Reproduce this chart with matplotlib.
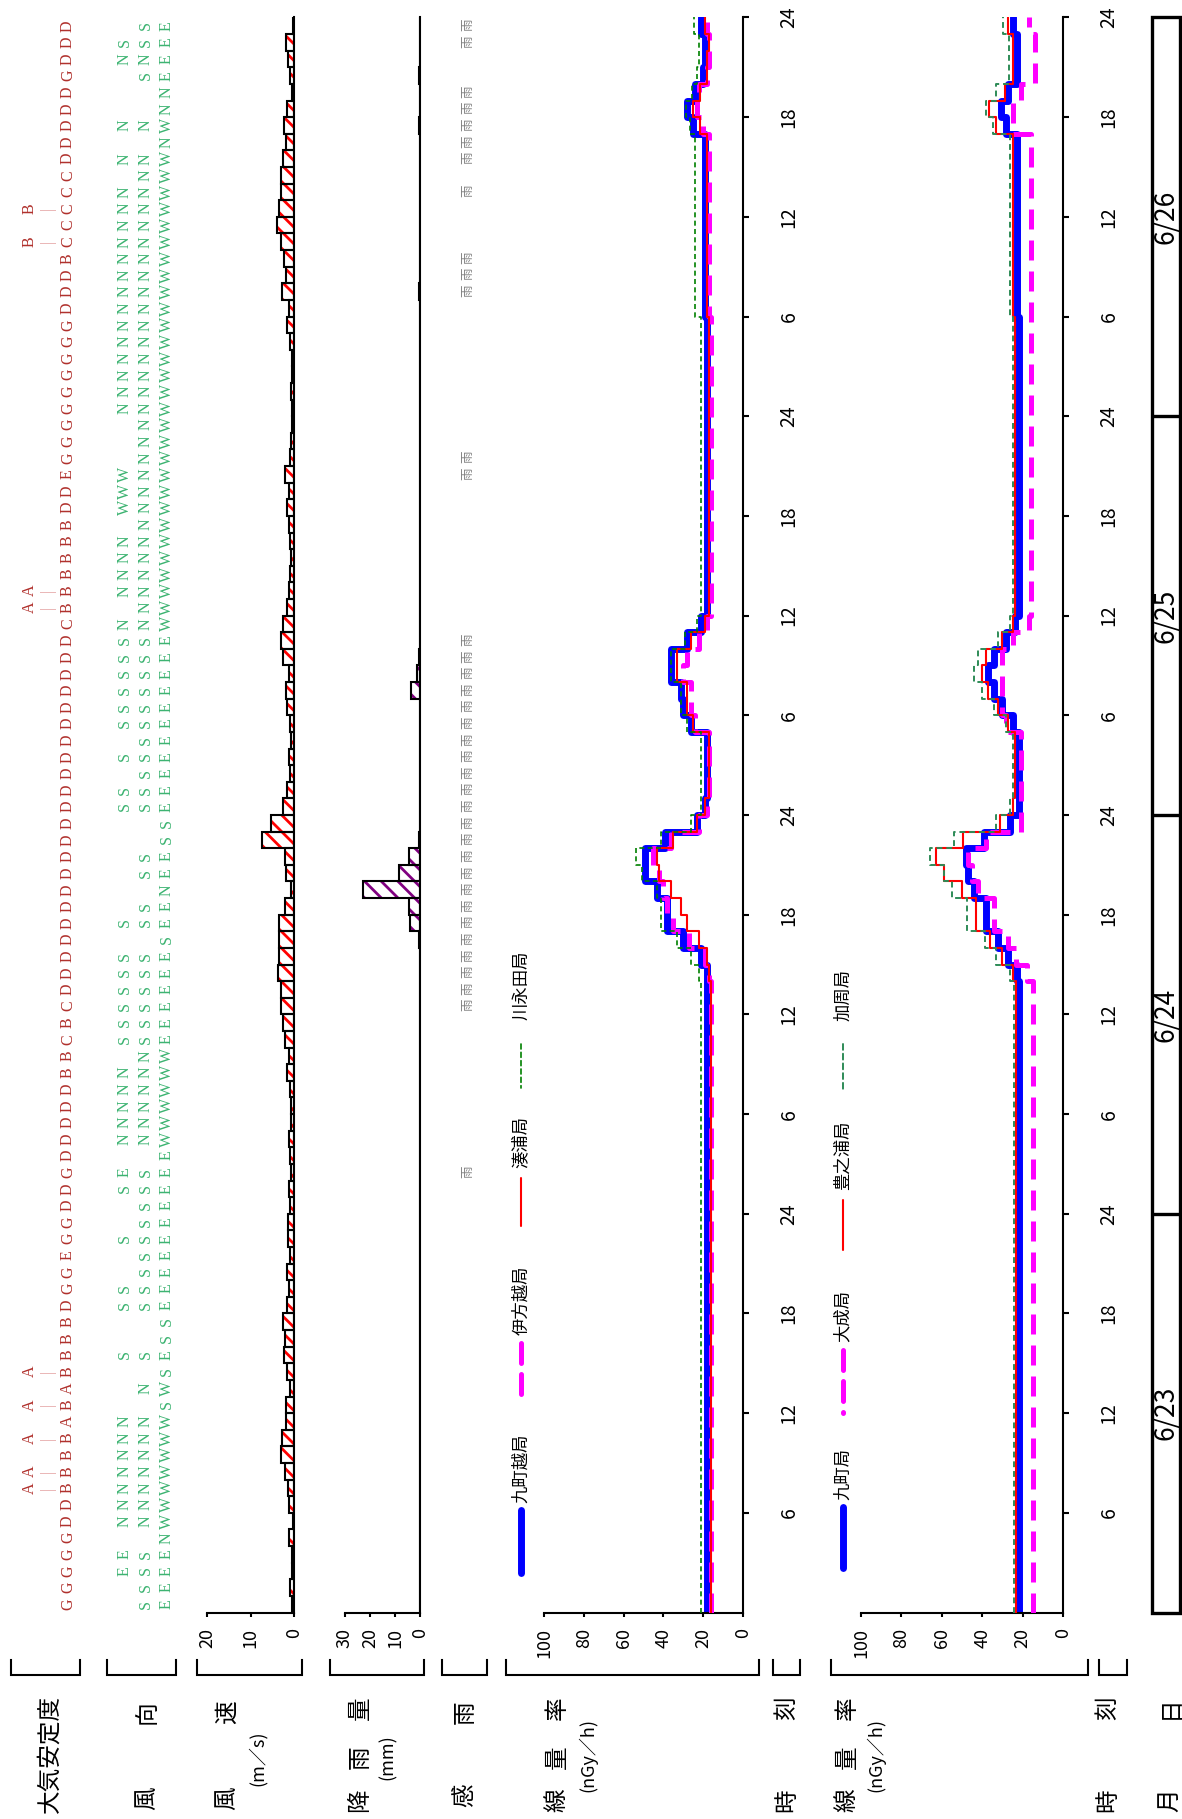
import numpy as np
import matplotlib
matplotlib.use("Agg")
import matplotlib.pyplot as plt
from matplotlib.patches import Rectangle

plt.rcParams["font.family"] = ["Noto Sans CJK JP", "DejaVu Sans"]
plt.rcParams["hatch.linewidth"] = 2.0

W, H = 1182, 1819
Y0, Y96 = 1612.5, 17.5          # pixel rows of hour 0 and hour 96

# ---- hourly data, 6/23 .. 6/26 (index k = hour k..k+1) ----
DATES = ["6/23", "6/24", "6/25", "6/26"]
TIME_LABELS = ["6", "12", "18", "24"] * 4

STABILITY = (
    ["G", "G", "G", "G", "G", "D", "D", "A-B", "A-B", "B", "A-B", "A",
     "A-B", "A", "A-B", "B", "B", "B", "D", "G", "G", "E", "G", "G"]
    + ["D", "D", "G", "D", "D", "D", "D", "D", "B", "B", "C", "B",
       "C", "D", "D", "D", "D", "D", "D", "D", "D", "D", "D", "D"]
    + ["D", "D", "D", "D", "D", "D", "D", "D", "D", "D", "D", "C",
       "A-B", "A-B", "B", "B", "B", "B", "D", "D", "E", "G", "G", "G"]
    + ["G", "G", "G", "G", "G", "G", "D", "D", "D", "B", "B-C", "C",
       "B-C", "C", "C", "D", "D", "D", "D", "D", "G", "D", "D", "D"]
)

WIND_DIR = (
    ["SE", "SE", "ESE", "ESE", "N", "NNW", "NNW", "NNW", "NNW", "NNW", "NNW", "NNW",
     "S", "NW", "S", "SSE", "S", "S", "SSE", "SSE", "SE", "SE", "SSE", "SE"]
    + ["SE", "SSE", "ESE", "E", "NNW", "NNW", "NNW", "NNW", "NNW", "NW", "SSE", "SSE",
       "SSE", "SSE", "SSE", "SSE", "S", "SSE", "SE", "N", "SE", "SE", "S", "S"]
    + ["SSE", "SSE", "SE", "SSE", "SE", "SSE", "SSE", "SSE", "SSE", "SSE", "SSE", "NNW",
       "NW", "NNW", "NNW", "NNW", "NNW", "NW", "WNW", "WNW", "WNW", "NW", "NW", "NW"]
    + ["NNW", "NNW", "NNW", "NNW", "NNW", "NNW", "NNW", "NNW", "NNW", "NNW", "NNW", "NNW",
       "NNW", "NNW", "NW", "NNW", "N", "NNW", "N", "N", "SE", "NNE", "SSE", "SE"]
)

WIND_SPEED = (
    [0.5, 0.9, 0.4, 0.4, 1.1, 0.3, 1.2, 1.3, 2.1, 2.9, 2.8, 1.8,
     1.8, 0.9, 1.5, 2.2, 2.1, 2.5, 1.5, 1.2, 1.5, 1.0, 1.3, 1.4]
    + [1.0, 1.2, 0.8, 1.0, 1.2, 0.6, 0.8, 1.0, 1.5, 1.2, 2.0, 2.5,
       3.0, 3.0, 3.7, 3.4, 3.4, 3.4, 2.1, 0.8, 1.9, 2.1, 7.3, 5.2]
    + [2.5, 1.5, 1.0, 1.2, 0.8, 1.0, 1.5, 1.8, 1.2, 2.5, 3.0, 2.5,
       1.5, 1.2, 1.0, 0.8, 1.0, 1.2, 1.5, 1.2, 2.0, 1.0, 0.8, 0.5]
    + [0.5, 0.8, 0.5, 0.5, 1.0, 1.5, 1.2, 2.7, 1.8, 2.2, 3.1, 3.8,
       3.5, 2.9, 3.1, 2.5, 1.8, 2.2, 1.5, 0.5, 0.9, 1.3, 1.8, 0.3]
)

RAIN = (
    [0.0] * 24
    + [0.0] * 16 + [0.5, 4.0, 4.5, 22.7, 8.5, 4.3, 0.5, 0.0]
    + [0.0] * 7 + [3.5, 1.0, 0.5] + [0.0] * 14
    + [0.0] * 7 + [0.5] + [0.0] * 9 + [0.5, 0.0, 0.0, 0.5] + [0.0] * 3
)

RAIN_SENSE_HOURS = [26] + list(range(36, 59)) + [68, 69, 79, 80, 81, 85, 87, 88,
                                                89, 90, 91, 94, 95]

# dose rate (nGy/h), upper panel
KUMACHIGOE = (
    [18] * 24
    + [18] * 14 + [18, 21, 30, 38, 38, 43, 49, 49, 39, 23]
    + [19, 18, 18, 18, 18, 26, 30, 31, 36, 36, 28, 21] + [18] * 12
    + [18] * 6 + [19] * 11 + [25, 28, 24, 20, 19, 19, 21]
)
IKATAGOE = (
    [16] * 24
    + [16] * 14 + [17, 19, 27, 35, 38, 40, 42, 45, 36, 22]
    + [18, 17, 17, 17, 17, 24, 26, 26, 30, 28, 22, 18] + [16] * 12
    + [16] * 6 + [17] * 11 + [20, 23, 22, 18, 17, 17, 18]
)
MINATOURA = (
    [16] * 24
    + [16] * 14 + [17, 18, 22, 28, 31, 36, 42, 43, 35, 23]
    + [19, 17, 17, 17, 17, 25, 28, 28, 33, 33, 26, 19] + [17] * 12
    + [17] * 6 + [18] * 11 + [21.6, 25, 21.6, 18, 18, 17, 19]
)
KAWANAGATA = (
    [21] * 24
    + [21] * 14 + [22, 26, 33, 41, 41, 43, 51, 54, 41, 26]
    + [21, 21, 21, 21, 21, 28, 31, 31, 36, 36, 29, 23] + [21] * 12
    + [21] * 6 + [24] * 11 + [26.6, 28.8, 25.8, 23, 22, 22, 24.6]
)

# dose rate (nGy/h), lower panel
KUMACHI = (
    [22] * 24
    + [22] * 14 + [23, 27, 32, 38, 38, 44, 47, 48, 39, 26]
    + [22, 22, 22, 22, 22, 25, 30, 34, 37, 34, 28, 24] + [22] * 12
    + [22] * 6 + [23] * 11 + [28, 30.5, 27, 23, 23, 23, 25]
)
OONARI = (
    [15] * 24
    + [15] * 14 + [18, 23.5, 27, 34, 34, 42, 45, 47, 38, 21]
    + [21, 21, 21, 21, 21, 28, 30, 30, 30, 30, 25, 17] + [16] * 12
    + [16] * 17 + [25, 25, 21, 14, 14, 14, 17]
)
TOYONOURA = (
    [23.5] * 24
    + [23.5] * 14 + [25, 30, 36, 43, 43, 50, 59, 63, 49.5, 31]
    + [24.6, 24, 24, 24, 24, 27, 32, 37, 40, 38, 30, 25] + [24] * 12
    + [24] * 6 + [24.6] * 11 + [33, 36.6, 28.5, 24.6, 24.6, 24.6, 27]
)
KASHU = (
    [24.5] * 24
    + [24.5] * 14 + [26, 33, 38.6, 47.7, 47.7, 55, 59, 66, 54, 33]
    + [26, 25, 25, 25, 25, 28, 34, 40, 44, 42, 32, 26] + [25] * 12
    + [25] * 6 + [26] * 11 + [34.6, 38, 33, 26.7, 26.7, 26.7, 29.7]
)

HOURS = np.arange(96)

fig = plt.figure(figsize=(W / 100, H / 100), dpi=100)
fig.patch.set_facecolor("white")


def time_axes(x0, x1):
    ax = fig.add_axes([x0 / W, 1 - Y0 / H, (x1 - x0) / W, (Y0 - Y96) / H])
    ax.set_ylim(0, 96)
    ax.patch.set_alpha(0)
    return ax


def value_axes(x0, x1, vmax, ticks):
    ax = time_axes(x0, x1)
    ax.set_xlim(vmax, 0)
    for s in ("top", "left"):
        ax.spines[s].set_visible(False)
    for s in ("right", "bottom"):
        ax.spines[s].set_linewidth(1.5)
    ax.set_xticks(ticks)
    ax.set_xticklabels([str(t) for t in ticks], rotation=90, fontsize=13)
    ax.tick_params(axis="x", direction="out", length=3, width=1.5, pad=8)
    ax.set_yticks([])
    return ax


def step_xy(vals):
    t = np.repeat(np.arange(97), 2)[1:-1]
    return np.repeat(np.asarray(vals, float), 2), t


def hatched_bars(ax, vals, color):
    ax.barh(HOURS, vals, height=1.0, align="edge", color="white",
            edgecolor=color, hatch="\\\\", linewidth=0, zorder=2)
    ax.barh(HOURS, vals, height=1.0, align="edge", fill=False,
            edgecolor="black", linewidth=1.5, zorder=3)


# text columns share the time scale; x in pixels
ax_t = time_axes(0, W)
ax_t.set_xlim(0, W)
ax_t.axis("off")

LETTER = dict(rotation=90, ha="center", va="center", fontsize=11.5,
              family="Liberation Serif")
STAB_COLOR = "#b0302c"
for k, s in enumerate(STABILITY):
    ax_t.text(68, k + 0.5, s.split("-")[-1], color=STAB_COLOR, **LETTER)
    if "-" in s:
        ax_t.text(48, k + 0.5, "|", color="#e4a0a0", **LETTER)
        ax_t.text(30, k + 0.5, s[0], color=STAB_COLOR, **LETTER)

for k, d in enumerate(WIND_DIR):
    for x, ch in zip((125, 146, 167), d.rjust(3)):
        if ch != " ":
            ax_t.text(x, k + 0.5, ch, color="#3cb371", **LETTER)

for k in RAIN_SENSE_HOURS:
    ax_t.text(468, k + 0.55, "雨", rotation=90, ha="center", va="center",
              fontsize=9, color="#808080")

# date box
ax_t.add_patch(Rectangle((1152, 0), 28, 96, fill=False, lw=2.4,
                         edgecolor="black", clip_on=False))
ax_t.hlines([24, 48, 72], 1152, 1180, color="black", lw=2.4)
for i, d in enumerate(DATES):
    ax_t.text(1166, 12 + 24 * i, d, rotation=90, ha="center", va="center",
              fontsize=19)

# wind speed
ax_ws = value_axes(207, 294, 20, [20, 10, 0])
hatched_bars(ax_ws, WIND_SPEED, "red")

# rainfall
ax_rn = value_axes(345, 420, 30, [30, 20, 10, 0])
hatched_bars(ax_rn, RAIN, "#800080")


def dose_axes(x0, x1, series):
    ax = value_axes(x0, x1, 100, [100, 80, 60, 40, 20, 0])
    ax.yaxis.tick_right()
    ax.set_yticks(range(6, 97, 6))
    ax.set_yticklabels(TIME_LABELS, rotation=90, va="center", fontsize=14)
    ax.tick_params(axis="y", direction="out", length=4.5, width=1.5, pad=21)
    for vals, kw in series:
        x, t = step_xy(vals)
        ax.plot(x, t, **kw)
    return ax


BLUE = dict(color="#0000ff", lw=5, solid_capstyle="round",
            solid_joinstyle="round", zorder=2)
MAGENTA = dict(color="#ff00ff", lw=3.6, ls=(0, (4, 2.2)), zorder=3)
RED = dict(color="#ff0000", lw=1.5, zorder=4)
GREEN_UP = dict(color="#008000", lw=1.2, ls=(0, (3, 2)), zorder=5)
GREEN_LO = dict(color="#2e8b57", lw=1.4, ls=(0, (3, 2)), zorder=5)

dose_axes(544, 743, [(KUMACHIGOE, BLUE), (IKATAGOE, MAGENTA),
                     (MINATOURA, RED), (KAWANAGATA, GREEN_UP)])
dose_axes(861, 1063, [(KUMACHI, BLUE), (OONARI, MAGENTA),
                      (TOYONOURA, RED), (KASHU, GREEN_LO)])

# pixel overlay: legends, row labels, brackets
ax_p = fig.add_axes([0, 0, 1, 1])
ax_p.set_xlim(0, W)
ax_p.set_ylim(H, 0)
ax_p.axis("off")


def legend_item(x, y_line, y_text, label, style):
    kw = {k: v for k, v in style.items() if k != "zorder"}
    kw.setdefault("solid_capstyle", "round")
    ax_p.plot([x, x], y_line, dash_capstyle="round", **kw)
    ax_p.text(x, y_text, label, rotation=90, ha="center", va="bottom",
              fontsize=12.5)


legend_item(521, (1510, 1573), 1503, "九町越局", BLUE)
legend_item(521, (1343, 1405), 1335, "伊方越局", MAGENTA)
legend_item(521, (1178, 1226), 1168, "湊浦局", RED)
legend_item(521, (1044, 1088), 1020, "川永田局", GREEN_UP)
legend_item(843, (1507, 1568), 1500, "九町局", BLUE)
legend_item(843, (1350, 1413), 1342, "大成局", MAGENTA)
legend_item(843, (1200, 1250), 1190, "豊之浦局", RED)
legend_item(843, (1044, 1090), 1021, "加周局", GREEN_LO)

BRACKETS = [(11, 80), (107, 176), (197, 302), (330, 424), (442, 487),
            (506, 759), (773, 800), (831, 1088), (1099, 1127)]
for x0, x1 in BRACKETS:
    ax_p.plot([x0, x0, x1, x1], [1660, 1675, 1675, 1660], color="black",
              lw=1.5, solid_joinstyle="miter")

LABELS = [
    (50, 1754, "大気安定度", 17),
    (147, 1798, "風", 17), (147, 1712, "向", 17),
    (227, 1798, "風", 17), (227, 1712, "速", 17),
    (257, 1758, "(m／s)", 13),
    (360, 1800, "降", 17), (360, 1757, "雨", 17), (360, 1708, "量", 17),
    (388, 1757, "(mm)", 13),
    (465, 1795, "感", 17), (465, 1712, "雨", 17),
    (557, 1800, "線", 17), (557, 1757, "量", 17), (557, 1708, "率", 17),
    (588, 1755, "(nGy／h)", 13),
    (787, 1800, "時", 17), (787, 1708, "刻", 17),
    (847, 1800, "線", 17), (847, 1757, "量", 17), (847, 1708, "率", 17),
    (876, 1755, "(nGy／h)", 13),
    (1108, 1800, "時", 17), (1108, 1708, "刻", 17),
    (1170, 1800, "月", 17), (1170, 1707, "日", 17),
]
for x, y, s, fs in LABELS:
    ax_p.text(x, y, s, rotation=90, ha="center", va="center", fontsize=fs)

fig.savefig("out.png", dpi=100)
